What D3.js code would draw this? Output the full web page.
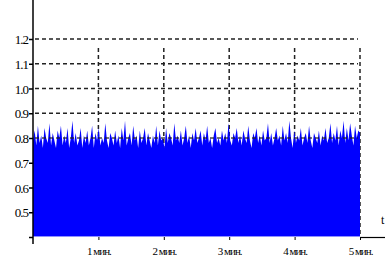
<!DOCTYPE html>
<html>
<head>
  <style>
    body { margin: 0; background: white; }
    svg { display: block; }
    text { font-family: "Liberation Serif", "DejaVu Serif", serif; fill: black; }
    .grid line { stroke: #222; stroke-width: 1.5; stroke-dasharray: 4,3; }
  </style>
</head>
<body>
  <div id="chart"></div>
  <script src="https://d3js.org/d3.v7.min.js"></script>
  <script>
    var width = 385, height = 261;

    // signal level, evenly spaced over 0..5 min
    var values = [
      0.79,0.83,0.77,0.85,0.78,0.81,0.76,0.84,0.80,0.78,
      0.86,0.77,0.82,0.79,0.76,0.83,0.80,0.85,0.77,0.81,
      0.78,0.84,0.76,0.80,0.87,0.78,0.82,0.77,0.79,0.84,
      0.76,0.81,0.78,0.83,0.77,0.80,0.85,0.76,0.82,0.79,
      0.84,0.77,0.80,0.78,0.86,0.79,0.76,0.82,0.80,0.77,
      0.83,0.78,0.81,0.76,0.84,0.79,0.87,0.77,0.80,0.82,
      0.77,0.85,0.79,0.81,0.76,0.83,0.78,0.80,0.84,0.77,
      0.82,0.79,0.76,0.81,0.78,0.85,0.77,0.83,0.79,0.80,
      0.76,0.84,0.78,0.82,0.80,0.77,0.86,0.79,0.81,0.78,
      0.83,0.77,0.80,0.85,0.78,0.81,0.76,0.82,0.79,0.84,
      0.78,0.80,0.83,0.77,0.82,0.79,0.85,0.78,0.80,0.76,
      0.81,0.84,0.78,0.80,0.77,0.83,0.79,0.82,0.78,0.86,
      0.79,0.77,0.82,0.80,0.84,0.78,0.81,0.77,0.83,0.80,
      0.78,0.85,0.79,0.76,0.82,0.80,0.84,0.78,0.81,0.77,
      0.83,0.79,0.80,0.86,0.78,0.82,0.77,0.80,0.84,0.79,
      0.81,0.77,0.85,0.79,0.82,0.78,0.87,0.80,0.76,0.83,
      0.78,0.81,0.79,0.84,0.77,0.80,0.82,0.78,0.85,0.79,
      0.76,0.82,0.80,0.78,0.83,0.77,0.81,0.79,0.84,0.78,
      0.80,0.86,0.78,0.82,0.79,0.85,0.77,0.83,0.80,0.87,
      0.78,0.84,0.79,0.86,0.81,0.77,0.85,0.80,0.83,0.82
    ];
    var yTicks = [0.4, 0.5, 0.6, 0.7, 0.8, 0.9, 1.0, 1.1, 1.2];
    var yGrid = [0.8, 0.9, 1.0, 1.1, 1.2];
    var xTicks = [1, 2, 3, 4, 5];
    var xLabels = ["1 мин.", "2 мин.", "3 мин.", "4 мин.", "5 мин."];

    var svg = d3.select("#chart").append("svg")
        .attr("width", width).attr("height", height);

    var x = d3.scaleLinear().domain([0, 5]).range([33, 360]);
    var y = d3.scaleLinear().domain([0.4, 1.2]).range([237, 39]);
    var step = 5 / (values.length - 1);

    // vertical dashed grid sits under the signal
    var vgrid = svg.append("g").attr("class", "grid");
    vgrid.selectAll("line").data(xTicks).enter().append("line")
        .attr("x1", d => x(d)).attr("x2", d => x(d))
        .attr("y1", y(1.2) + 9).attr("y2", y(0.4));

    // noisy filled signal
    var area = d3.area()
        .x((d, i) => x(i * step))
        .y0(y(0.4))
        .y1(d => y(d));
    svg.append("path")
        .datum(values)
        .attr("d", area)
        .attr("fill", "#0000ff");
    svg.append("line")
        .attr("x1", x(0)).attr("x2", x(5))
        .attr("y1", y(0.4) - 0.5).attr("y2", y(0.4) - 0.5)
        .attr("stroke", "#8f8fff");

    // horizontal dashed grid
    var hgrid = svg.append("g").attr("class", "grid");
    hgrid.selectAll("line").data(yGrid).enter().append("line")
        .attr("x1", x(0) + 2).attr("x2", 358)
        .attr("y1", d => y(d)).attr("y2", d => y(d))
        .style("opacity", d => d === 0.8 ? 0.8 : 1);

    // y axis
    var yAxis = d3.axisLeft(y)
        .tickValues(yTicks)
        .tickSize(4)
        .tickFormat(d => d === 0.4 ? "" : d.toFixed(1));
    var gy = svg.append("g").attr("transform", "translate(33,0)").call(yAxis);
    gy.select(".domain").remove();
    gy.selectAll(".tick line").attr("stroke", "black").attr("stroke-width", 1.5);
    gy.selectAll(".tick text")
        .attr("x", -5).attr("dy", "0.35em")
        .style("font-size", "13px")
        .style("letter-spacing", "-1px")
        .attr("font-family", null);
    svg.append("line")
        .attr("x1", 33).attr("x2", 33).attr("y1", 0).attr("y2", 244)
        .attr("stroke", "black").attr("stroke-width", 1.5);

    // x axis
    var xAxis = d3.axisBottom(x)
        .tickValues(xTicks)
        .tickSize(3)
        .tickFormat((d, i) => xLabels[i]);
    var gx = svg.append("g").attr("transform", "translate(0,237)").call(xAxis);
    gx.select(".domain").remove();
    gx.selectAll(".tick line").attr("stroke", "black");
    gx.selectAll(".tick text")
        .attr("y", 10)
        .style("font-size", "11px")
        .style("letter-spacing", "-1px")
        .attr("font-family", null);
    svg.append("line")
        .attr("x1", 360).attr("x2", width).attr("y1", 237.5).attr("y2", 237.5)
        .attr("stroke", "black").attr("stroke-width", 1.2);

    svg.append("text")
        .attr("x", 381).attr("y", 224)
        .style("font-size", "12px")
        .text("t");
  </script>
</body>
</html>
